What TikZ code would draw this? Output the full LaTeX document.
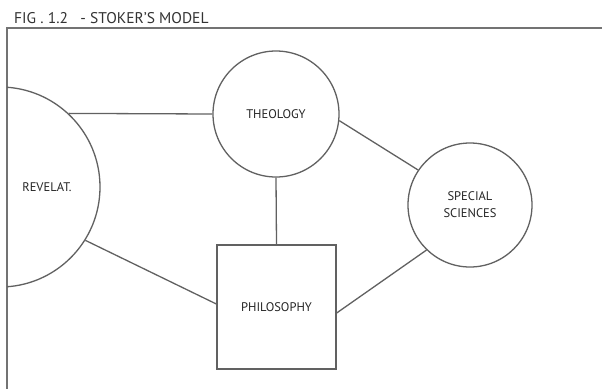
\documentclass[tikz,border=0pt]{standalone}
\usepackage{fontspec}
\setmainfont{PT Sans}
\begin{document}
\begin{tikzpicture}[x=1pt,y=-1pt,
  ln/.style={draw=black!62, line width=1.3pt},
  circ/.style={circle, ln, inner sep=0pt},
  lbl/.style={text=black!85, font=\fontsize{12.5}{17}\selectfont, align=center, inner sep=0pt},
  frame/.style={draw=black!55, line width=1.6pt}]
\useasboundingbox (0,0) rectangle (602,389);
\fill[white] (0,0) rectangle (602,389);
% title
\node[anchor=west, text=black!80, font=\fontsize{15.5}{18}\selectfont, inner sep=0pt] (title) at (14,18.5) {FIG . 1.2 \ \ - STOKER'S MODEL};
% frame
\coordinate (ftl) at (7,28);
\coordinate (ftr) at (602,28);
\coordinate (fbl) at (7,389);
\draw[frame] (ftr) -- (ftl) -- (fbl);
% revelation circle, clipped by the frame
\begin{scope}
\clip (7,28) rectangle (602,389);
\node[circ, minimum size=200pt] (rev) at (0,187) {};
\end{scope}
\node[lbl] (revlabel) at (47,187) {REVELAT.};
% other nodes
\node[circ, minimum size=126pt, lbl, ln] (theo) at (276,114) {THEOLOGY};
\node[circ, minimum size=124pt, lbl, ln] (spec) at (470,205) {SPECIAL\\SCIENCES};
\node[ln, minimum width=119pt, minimum height=124pt, lbl, ln] (philo) at (276.5,307) {\raisebox{-3pt}{PHILOSOPHY}};
% connectors
\draw[ln] (rev.47) -- (theo.west);
\draw[ln] (theo.south) -- (philo.north);
\draw[ln] (rev.-32) -- ([yshift=3pt]philo.west);
\draw[ln] (theo.-6) -- (spec.146);
\draw[ln] ([yshift=-6pt]philo.east) -- (spec.226);
\end{tikzpicture}
\end{document}
